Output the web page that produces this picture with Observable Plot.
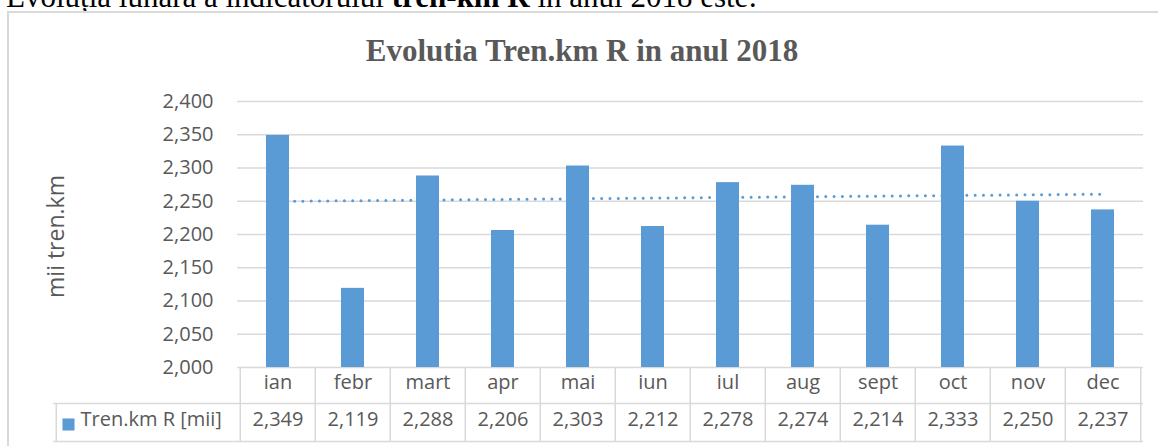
<!DOCTYPE html>
<html><head><meta charset="utf-8">
<script src="https://cdn.jsdelivr.net/npm/d3@7"></script>
<script src="https://cdn.jsdelivr.net/npm/@observablehq/plot@0.6"></script>
<style>
body{margin:0;background:#fff;overflow:hidden;width:1158px;height:446px;position:relative;}
#intro{position:absolute;left:6px;top:-19px;font-family:"Liberation Serif",serif;font-size:31px;line-height:31px;color:#000;white-space:nowrap;}
#box{position:absolute;left:7px;top:11px;width:1200px;height:500px;border:2px solid #d9d9d9;box-sizing:border-box;background:#fff;}
#title{position:absolute;left:0;top:35px;width:1164px;text-align:center;font-family:"Liberation Serif",serif;font-weight:bold;font-size:31px;line-height:31px;color:#595959;white-space:nowrap;}
#chart{position:absolute;left:0;top:0;}
</style></head>
<body>
<div id="intro">Evoluția lunară a indicatorului <b>tren-km R</b> în anul 2018 este:</div>
<div id="box"></div>
<div id="title"></div>
<div id="chart"></div>
<script>
const months = ["ian","febr","mart","apr","mai","iun","iul","aug","sept","oct","nov","dec"];
const values = [2349,2119,2288,2206,2303,2212,2278,2274,2214,2333,2250,2237];
const yTicks = [2000,2050,2100,2150,2200,2250,2300,2350,2400];
const seriesName = "Tren.km R [mii]";
const yLabel = "mii tren.km";
const chartTitle = "Evolutia Tren.km R in anul 2018";

document.getElementById("title").textContent = chartTitle;

const data = months.map((m, i) => ({month: m, value: values[i]}));

// linear trend (least squares) of the series
const xs = values.map((_, i) => i + 1);
const mx = d3.mean(xs), my = d3.mean(values);
const slope = d3.sum(xs, (x, i) => (x - mx) * (values[i] - my)) / d3.sum(xs, x => (x - mx) ** 2);
const trend = data.map((d, i) => ({month: d.month, value: my + slope * (xs[i] - mx)}));

const W = 1158, H = 446, ml = 237, mr = 15, mt = 101, mb = 79;
const step = (W - ml - mr) / months.length;
const legendW = 184;
const row1 = 36, row2 = 74;
const blue = "#5b9bd5", grid = "#d9d9d9", ink = "#595959";
const fmt = d3.format(",");

const chart = Plot.plot({
  width: W, height: H,
  marginLeft: ml, marginRight: mr, marginTop: mt, marginBottom: mb,
  style: {fontFamily: "Open Sans", fontSize: "20px", background: "none", overflow: "visible"},
  x: {type: "band", domain: months, paddingInner: 0.695, paddingOuter: 0.3475, axis: null},
  y: {domain: [2000, 2400], axis: null},
  marks: [
    Plot.gridY(yTicks, {stroke: grid, strokeOpacity: 1, strokeWidth: 1.5}),
    Plot.axisY(yTicks, {tickSize: 0, tickPadding: 24, tickFormat: fmt, fontSize: 20, color: ink, label: null}),
    Plot.line(trend, {x: "month", y: "value", stroke: blue, strokeWidth: 3, strokeDasharray: "0 8.3", strokeLinecap: "round"}),
    Plot.barY(data, {x: "month", y1: 2000, y2: "value", fill: blue}),
    // data table
    Plot.ruleY([2000], {dy: row1, insetLeft: -legendW, stroke: grid, strokeWidth: 1.5}),
    Plot.ruleY([2000], {dy: row2, insetLeft: -legendW, stroke: grid, strokeWidth: 1.5}),
    Plot.ruleX(months, {x: d => d, dx: -step / 2, y1: 2000, y2: 2000, insetBottom: -row2, stroke: grid, strokeWidth: 1.5}),
    Plot.ruleX([months[months.length - 1]], {x: d => d, dx: step / 2, y1: 2000, y2: 2000, insetBottom: -row2, stroke: grid, strokeWidth: 1.5}),
    Plot.ruleX([months[0]], {x: d => d, dx: -step / 2 - legendW, y1: 2000, y2: 2000, insetTop: row1, insetBottom: -row2, stroke: grid, strokeWidth: 1.5}),
    Plot.text(months, {x: d => d, text: d => d, frameAnchor: "bottom", dy: 21, fill: ink, fontSize: 20}),
    Plot.text(data, {x: "month", text: d => fmt(d.value), frameAnchor: "bottom", dy: 58, fill: ink, fontSize: 20}),
    Plot.dot([seriesName], {frameAnchor: "bottom-left", dx: -169, dy: 57, symbol: "square", r: 6.8, fill: blue, stroke: null}),
    Plot.text([seriesName], {text: d => d, frameAnchor: "bottom-left", dx: -157, dy: 58, textAnchor: "start", fill: ink, fontSize: 20}),
    Plot.text([yLabel], {text: d => d, frameAnchor: "left", dx: -181, dy: 2, rotate: -90, textAnchor: "middle", fill: ink, fontSize: 23})
  ]
});
document.getElementById("chart").appendChild(chart);
</script>
</body></html>
